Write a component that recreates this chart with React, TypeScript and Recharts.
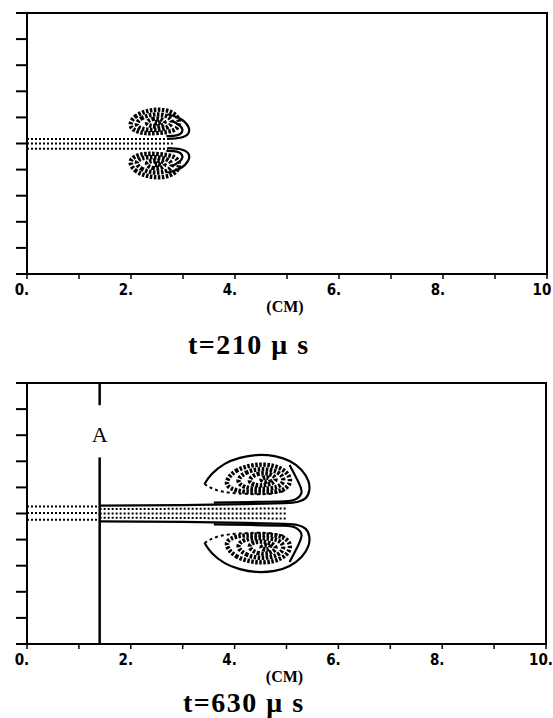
import React from "react";
import {
  ComposedChart,
  Line,
  XAxis,
  YAxis,
  Label,
  ReferenceArea,
  ReferenceLine,
  ReferenceDot,
} from "recharts";

type Pt = { x: number; y: number };

const xTicks = [0, 1, 2, 3, 4, 5, 6, 7, 8, 9, 10];
const yTicks = [0, 1, 2, 3, 4, 5, 6, 7, 8, 9, 10];
const xLabels210 = ["0.", "", "2.", "", "4.", "", "6.", "", "8.", "", "10"];
const xLabels630 = ["0.", "", "2.", "", "4.", "", "6.", "", "8.", "", "10."];
const axisUnit = "(CM)";
const title210 = "t=210 \u03bc s";
const title630 = "t=630 \u03bc s";

// t = 210 us : jet rows (dotted)
const jet210Top: Pt[] = [{ x: 0, y: 5.17 }, { x: 2.72, y: 5.17 }];
const jet210Mid: Pt[] = [{ x: 0, y: 5.0 }, { x: 2.8, y: 5.0 }];
const jet210Bottom: Pt[] = [{ x: 0, y: 4.8 }, { x: 2.72, y: 4.8 }];

// t = 210 us : stippled cores, upper and lower lobe
const s210UpA: Pt[] = [
  { x: 1.96, y: 5.71 }, { x: 2.06, y: 6.05 }, { x: 2.29, y: 6.25 }, { x: 2.52, y: 6.32 },
  { x: 2.75, y: 6.25 }, { x: 2.9, y: 6.05 }, { x: 2.94, y: 5.75 }, { x: 2.85, y: 5.48 },
  { x: 2.56, y: 5.4 }, { x: 2.27, y: 5.38 }, { x: 2.06, y: 5.48 },
];
const s210UpB: Pt[] = [
  { x: 2.08, y: 5.72 }, { x: 2.18, y: 5.98 }, { x: 2.42, y: 6.14 }, { x: 2.68, y: 6.1 },
  { x: 2.82, y: 5.85 }, { x: 2.72, y: 5.58 }, { x: 2.42, y: 5.5 }, { x: 2.18, y: 5.56 },
];
const s210UpC: Pt[] = [
  { x: 2.25, y: 5.75 }, { x: 2.4, y: 5.98 }, { x: 2.62, y: 5.95 }, { x: 2.68, y: 5.72 }, { x: 2.45, y: 5.62 },
];
const s210UpD: Pt[] = [{ x: 2.4, y: 5.78 }, { x: 2.52, y: 5.86 }, { x: 2.56, y: 5.74 }];
const s210LoA: Pt[] = [
  { x: 1.96, y: 4.29 }, { x: 2.06, y: 3.95 }, { x: 2.29, y: 3.75 }, { x: 2.52, y: 3.68 },
  { x: 2.75, y: 3.75 }, { x: 2.9, y: 3.95 }, { x: 2.94, y: 4.25 }, { x: 2.85, y: 4.52 },
  { x: 2.56, y: 4.6 }, { x: 2.27, y: 4.62 }, { x: 2.06, y: 4.52 },
];
const s210LoB: Pt[] = [
  { x: 2.08, y: 4.28 }, { x: 2.18, y: 4.02 }, { x: 2.42, y: 3.86 }, { x: 2.68, y: 3.9 },
  { x: 2.82, y: 4.15 }, { x: 2.72, y: 4.42 }, { x: 2.42, y: 4.5 }, { x: 2.18, y: 4.44 },
];
const s210LoC: Pt[] = [
  { x: 2.25, y: 4.25 }, { x: 2.4, y: 4.02 }, { x: 2.62, y: 4.05 }, { x: 2.68, y: 4.28 }, { x: 2.45, y: 4.38 },
];
const s210LoD: Pt[] = [{ x: 2.4, y: 4.22 }, { x: 2.52, y: 4.14 }, { x: 2.56, y: 4.26 }];

// t = 210 us : solid contours on the front of the cap
const c210UpOuter: Pt[] = [
  { x: 2.7, y: 6.12 }, { x: 2.95, y: 5.95 }, { x: 3.1, y: 5.65 }, { x: 3.1, y: 5.38 },
  { x: 2.95, y: 5.22 }, { x: 2.7, y: 5.18 },
];
const c210UpInner: Pt[] = [
  { x: 2.8, y: 5.86 }, { x: 2.96, y: 5.64 }, { x: 2.98, y: 5.44 }, { x: 2.88, y: 5.31 }, { x: 2.68, y: 5.28 },
];
const c210LoOuter: Pt[] = [
  { x: 2.7, y: 3.88 }, { x: 2.95, y: 4.05 }, { x: 3.1, y: 4.35 }, { x: 3.1, y: 4.62 },
  { x: 2.95, y: 4.78 }, { x: 2.7, y: 4.82 },
];
const c210LoInner: Pt[] = [
  { x: 2.8, y: 4.14 }, { x: 2.96, y: 4.36 }, { x: 2.98, y: 4.56 }, { x: 2.88, y: 4.69 }, { x: 2.68, y: 4.72 },
];

// t = 630 us : station A
const stationX = 1.4;
const stationGap = [9.15, 7.15];
const stationLabelY = 8.03;

// t = 630 us : jet rows
const jet630TopL: Pt[] = [{ x: 0, y: 5.27 }, { x: 1.4, y: 5.27 }];
const jet630MidL: Pt[] = [{ x: 0, y: 5.02 }, { x: 1.4, y: 5.02 }];
const jet630BottomL: Pt[] = [{ x: 0, y: 4.76 }, { x: 1.4, y: 4.76 }];
const jet630RowA: Pt[] = [{ x: 1.4, y: 5.17 }, { x: 5.0, y: 5.19 }];
const jet630RowB: Pt[] = [{ x: 1.4, y: 5.0 }, { x: 5.0, y: 5.0 }];
const jet630RowC: Pt[] = [{ x: 1.4, y: 4.84 }, { x: 5.0, y: 4.81 }];

// t = 630 us : outer contours (cap + jet edge)
const c630UpOuter: Pt[] = [
  { x: 3.42, y: 6.13 }, { x: 3.56, y: 6.51 }, { x: 3.81, y: 6.9 }, { x: 4.1, y: 7.13 },
  { x: 4.42, y: 7.24 }, { x: 4.77, y: 7.2 }, { x: 5.06, y: 7.01 }, { x: 5.29, y: 6.67 },
  { x: 5.42, y: 6.25 }, { x: 5.44, y: 5.9 }, { x: 5.37, y: 5.59 }, { x: 5.21, y: 5.44 },
  { x: 4.96, y: 5.4 }, { x: 4.2, y: 5.36 }, { x: 3.0, y: 5.32 }, { x: 1.4, y: 5.3 },
];
const c630LoOuter: Pt[] = [
  { x: 3.42, y: 3.87 }, { x: 3.56, y: 3.49 }, { x: 3.81, y: 3.1 }, { x: 4.1, y: 2.87 },
  { x: 4.42, y: 2.76 }, { x: 4.77, y: 2.8 }, { x: 5.06, y: 2.99 }, { x: 5.29, y: 3.33 },
  { x: 5.42, y: 3.75 }, { x: 5.44, y: 4.1 }, { x: 5.37, y: 4.41 }, { x: 5.21, y: 4.56 },
  { x: 4.96, y: 4.6 }, { x: 4.2, y: 4.64 }, { x: 3.0, y: 4.68 }, { x: 1.4, y: 4.7 },
];
const c630UpInner: Pt[] = [
  { x: 5.06, y: 6.86 }, { x: 5.21, y: 6.28 }, { x: 5.29, y: 5.82 }, { x: 5.19, y: 5.56 },
  { x: 4.96, y: 5.47 }, { x: 4.3, y: 5.44 }, { x: 3.6, y: 5.42 },
];
const c630LoInner: Pt[] = [
  { x: 5.06, y: 3.14 }, { x: 5.21, y: 3.72 }, { x: 5.29, y: 4.18 }, { x: 5.19, y: 4.44 },
  { x: 4.96, y: 4.53 }, { x: 4.3, y: 4.56 }, { x: 3.6, y: 4.58 },
];
const d630Up: Pt[] = [
  { x: 3.42, y: 6.13 }, { x: 3.62, y: 5.92 }, { x: 3.9, y: 5.8 }, { x: 4.25, y: 5.75 },
  { x: 4.65, y: 5.75 }, { x: 5.0, y: 5.88 },
];
const d630Lo: Pt[] = [
  { x: 3.42, y: 3.87 }, { x: 3.62, y: 4.08 }, { x: 3.9, y: 4.2 }, { x: 4.25, y: 4.25 },
  { x: 4.65, y: 4.25 }, { x: 5.0, y: 4.12 },
];

// t = 630 us : stippled cores
const s630UpA: Pt[] = [
  { x: 3.81, y: 6.21 }, { x: 4.0, y: 6.67 }, { x: 4.38, y: 6.9 }, { x: 4.77, y: 6.86 },
  { x: 5.02, y: 6.59 }, { x: 5.1, y: 6.21 }, { x: 4.96, y: 5.86 }, { x: 4.58, y: 5.79 },
  { x: 4.19, y: 5.82 }, { x: 3.9, y: 5.94 },
];
const s630UpB: Pt[] = [
  { x: 4.02, y: 6.25 }, { x: 4.2, y: 6.6 }, { x: 4.52, y: 6.74 }, { x: 4.85, y: 6.62 },
  { x: 4.98, y: 6.28 }, { x: 4.85, y: 5.98 }, { x: 4.5, y: 5.92 }, { x: 4.18, y: 5.98 },
];
const s630UpC: Pt[] = [
  { x: 4.25, y: 6.28 }, { x: 4.42, y: 6.55 }, { x: 4.7, y: 6.55 }, { x: 4.85, y: 6.28 },
  { x: 4.62, y: 6.06 }, { x: 4.35, y: 6.08 },
];
const s630UpD: Pt[] = [{ x: 4.48, y: 6.32 }, { x: 4.62, y: 6.42 }, { x: 4.72, y: 6.28 }, { x: 4.58, y: 6.18 }];
const s630LoA: Pt[] = [
  { x: 3.81, y: 3.79 }, { x: 4.0, y: 3.33 }, { x: 4.38, y: 3.1 }, { x: 4.77, y: 3.14 },
  { x: 5.02, y: 3.41 }, { x: 5.1, y: 3.79 }, { x: 4.96, y: 4.14 }, { x: 4.58, y: 4.21 },
  { x: 4.19, y: 4.18 }, { x: 3.9, y: 4.06 },
];
const s630LoB: Pt[] = [
  { x: 4.02, y: 3.75 }, { x: 4.2, y: 3.4 }, { x: 4.52, y: 3.26 }, { x: 4.85, y: 3.38 },
  { x: 4.98, y: 3.72 }, { x: 4.85, y: 4.02 }, { x: 4.5, y: 4.08 }, { x: 4.18, y: 4.02 },
];
const s630LoC: Pt[] = [
  { x: 4.25, y: 3.72 }, { x: 4.42, y: 3.45 }, { x: 4.7, y: 3.45 }, { x: 4.85, y: 3.72 },
  { x: 4.62, y: 3.94 }, { x: 4.35, y: 3.92 },
];
const s630LoD: Pt[] = [{ x: 4.48, y: 3.68 }, { x: 4.62, y: 3.58 }, { x: 4.72, y: 3.72 }, { x: 4.58, y: 3.82 }];

const INK = "#000";
const serif = '"Liberation Serif", "DejaVu Serif", serif';

function XTick(props: any) {
  const { x, y, payload, labels } = props;
  const text = labels[payload.value] ?? "";
  if (!text) return <g />;
  return (
    <text
      x={x - 5}
      y={y}
      dy={14}
      textAnchor="middle"
      fontFamily='"DejaVu Sans Condensed", "DejaVu Sans", sans-serif'
      fontWeight={700}
      fontSize={15}
      fill={INK}
    >
      {text}
    </text>
  );
}

function UnitLabel(props: any) {
  const vb = props.viewBox || { x: 0, y: 0, width: 0 };
  return (
    <text
      x={vb.x + vb.width / 2 - 2}
      y={vb.y + 38}
      textAnchor="middle"
      fontFamily={serif}
      fontWeight={700}
      fontSize={16}
      fill={INK}
    >
      {axisUnit}
    </text>
  );
}

interface PanelProps {
  top: number;
  right: number;
  labels: string[];
  dotted: Pt[][];
  stipple: Pt[][];
  solid: Pt[][];
  dashed: Pt[][];
  station?: boolean;
}

function Panel({ top, right, labels, dotted, stipple, solid, dashed, station }: PanelProps) {
  return (
    <div style={{ position: "absolute", left: 0, top }}>
      <ComposedChart width={553} height={320} margin={{ top: 13, right, bottom: 16, left: 15 }}>
        <XAxis
          type="number"
          dataKey="x"
          domain={[0, 10]}
          ticks={xTicks}
          interval={0}
          height={30}
          tickSize={5}
          tickMargin={2}
          axisLine={{ stroke: INK, strokeWidth: 2 }}
          tickLine={{ stroke: INK, strokeWidth: 1.5 }}
          tick={(p: any) => <XTick {...p} labels={labels} />}
          allowDataOverflow
        >
          <Label content={<UnitLabel />} />
        </XAxis>
        <YAxis
          type="number"
          domain={[0, 10]}
          ticks={yTicks}
          interval={0}
          width={12}
          tickSize={11}
          axisLine={{ stroke: INK, strokeWidth: 2 }}
          tickLine={{ stroke: INK, strokeWidth: 2 }}
          tickFormatter={() => ""}
          allowDataOverflow
        />
        <ReferenceArea x1={0} x2={10} y1={0} y2={10} fill="none" stroke={INK} strokeWidth={2} />
        {stipple.map((d, i) => (
          <Line
            key={"s" + i}
            data={d}
            dataKey="y"
            type="basisClosed"
            stroke={INK}
            strokeWidth={4.4}
            strokeDasharray="2.5 1.5"
            dot={false}
            activeDot={false}
            isAnimationActive={false}
          />
        ))}
        {dotted.map((d, i) => (
          <Line
            key={"d" + i}
            data={d}
            dataKey="y"
            type="linear"
            stroke={INK}
            strokeWidth={2}
            strokeDasharray="2 2"
            dot={false}
            activeDot={false}
            isAnimationActive={false}
          />
        ))}
        {dashed.map((d, i) => (
          <Line
            key={"k" + i}
            data={d}
            dataKey="y"
            type="natural"
            stroke={INK}
            strokeWidth={2}
            strokeDasharray="3 3"
            dot={false}
            activeDot={false}
            isAnimationActive={false}
          />
        ))}
        {solid.map((d, i) => (
          <Line
            key={"c" + i}
            data={d}
            dataKey="y"
            type="natural"
            stroke={INK}
            strokeWidth={2.2}
            dot={false}
            activeDot={false}
            isAnimationActive={false}
          />
        ))}
        {station && (
          <ReferenceLine
            segment={[{ x: stationX, y: 10 }, { x: stationX, y: stationGap[0] }]}
            stroke={INK}
            strokeWidth={2.5}
          />
        )}
        {station && (
          <ReferenceLine
            segment={[{ x: stationX, y: stationGap[1] }, { x: stationX, y: 0 }]}
            stroke={INK}
            strokeWidth={2.5}
          />
        )}
        {station && (
          <ReferenceDot
            x={stationX}
            y={stationLabelY}
            r={1}
            fill="none"
            stroke="none"
            label={{ value: "A", position: "center", fontSize: 22, fontFamily: serif, fill: INK }}
          />
        )}
      </ComposedChart>
    </div>
  );
}

const titleStyle: React.CSSProperties = {
  position: "absolute",
  fontFamily: serif,
  fontWeight: 700,
  fontSize: 28,
  lineHeight: "28px",
  letterSpacing: 1.5,
  whiteSpace: "pre",
  color: INK,
};

export default function App() {
  return (
    <div style={{ position: "absolute", left: 0, top: 0, width: 553, height: 718, background: "#fff", overflow: "hidden" }}>
      <Panel
        top={0}
        right={6}
        labels={xLabels210}
        dotted={[jet210Top, jet210Mid, jet210Bottom]}
        stipple={[s210UpA, s210UpB, s210UpC, s210UpD, s210LoA, s210LoB, s210LoC, s210LoD]}
        solid={[c210UpOuter, c210UpInner, c210LoOuter, c210LoInner]}
        dashed={[]}
      />
      <div style={{ ...titleStyle, left: 188, top: 331 }}>{title210}</div>
      <Panel
        top={370}
        right={7}
        labels={xLabels630}
        dotted={[jet630TopL, jet630MidL, jet630BottomL, jet630RowA, jet630RowB, jet630RowC]}
        stipple={[s630UpA, s630UpB, s630UpC, s630UpD, s630LoA, s630LoB, s630LoC, s630LoD]}
        solid={[c630UpOuter, c630LoOuter, c630UpInner, c630LoInner]}
        dashed={[d630Up, d630Lo]}
        station
      />
      <div style={{ ...titleStyle, left: 183, top: 689 }}>{title630}</div>
    </div>
  );
}
